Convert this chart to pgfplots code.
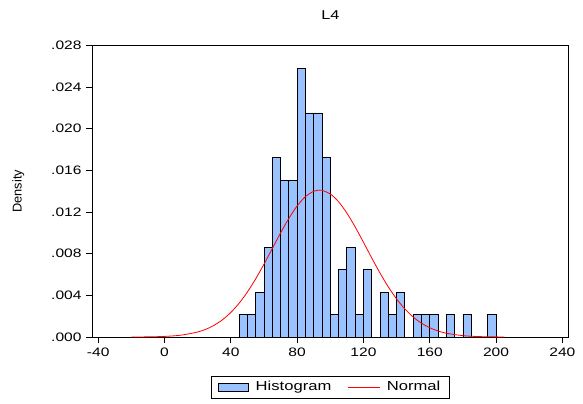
\documentclass[border=0pt]{standalone}
\usepackage{fontspec}
\setmainfont{Liberation Sans}[FakeStretch=1.27]
\newfontfamily\ylabfont{Liberation Sans}
\usepackage{pgfplots}
\pgfplotsset{compat=1.18}
\definecolor{histblue}{RGB}{153,194,255}
\begin{document}
\begin{tikzpicture}
\useasboundingbox (-69.2pt,-49.5pt) rectangle (368pt,252.75pt);
\begin{axis}[
  at={(0,0)}, anchor=south west,
  scale only axis, width=357pt, height=218.8pt,
  xmin=-43.6, xmax=243.6, ymin=0, ymax=0.028,
  scaled y ticks=false, scaled x ticks=false,
  xtick={-40,0,40,80,120,160,200,240},
  xticklabels={-40,0,40,80,120,160,200,240},
  ytick={0,0.004,0.008,0.012,0.016,0.020,0.024,0.028},
  yticklabels={.000,.004,.008,.012,.016,.020,.024,.028},
  xtick pos=left, ytick pos=left,
  tick align=outside, major tick length=4.5pt,
  tick style={black, line width=0.6pt},
  axis line style={line width=0.8pt},
  ticklabel style={font=\fontsize{9.2}{11}\selectfont},
  title={L4},
  title style={at={(axis description cs:0.5,1)}, anchor=base, yshift=13pt, font=\fontsize{9.6}{11}\selectfont},
  ylabel={Density},
  ylabel style={font=\ylabfont\fontsize{9.6}{11}\selectfont, at={(axis description cs:-0.1555,0.5)}, anchor=center},
  legend style={at={(axis description cs:0.5,0)}, anchor=center, yshift=-37.5pt,
    draw=black, line width=0.6pt, font=\fontsize{9.8}{11}\selectfont,
    inner xsep=5pt, inner ysep=2pt,
    /tikz/every odd column/.append style={column sep=3pt},
    /tikz/every even column/.append style={column sep=10pt}},
  legend columns=2,
]
\addplot[ybar interval, fill=histblue, draw=black, line width=0.6pt,
  legend image code/.code={\draw[fill=histblue,draw=black,line width=0.6pt] (0pt,-3pt) rectangle (23pt,3pt);}]
table {
x y
45 0.0021505
50 0.0021505
55 0.0043011
60 0.0086022
65 0.0172043
70 0.0150538
75 0.0150538
80 0.0258065
85 0.0215054
90 0.0215054
95 0.0172043
100 0.0021505
105 0.0064516
110 0.0086022
115 0.0021505
120 0.0064516
125 0
130 0.0043011
135 0.0021505
140 0.0043011
145 0
150 0.0021505
155 0.0021505
160 0.0021505
165 0
170 0.0021505
175 0
180 0.0021505
185 0
190 0
195 0.0021505
200 0
};
\addlegendentry{Histogram}
\addplot[red, line width=0.6pt, smooth,
  legend image code/.code={\draw[red,line width=0.6pt] (0pt,0pt) -- (24pt,0pt);}]
coordinates {
(-20,0.0000045) (-10,0.0000176) (0,0.0000601) (10,0.0001814) (20,0.0004834)
(25,0.0007532) (30,0.001137) (35,0.0016645) (40,0.0023608) (45,0.0032462)
(50,0.004326) (55,0.005588) (60,0.006996) (65,0.008490) (70,0.009986)
(75,0.011385) (80,0.012581) (85,0.013475) (90,0.013990) (93.5,0.014097)
(95,0.014077) (100,0.013730) (105,0.012980) (110,0.011893) (115,0.010563)
(120,0.009093) (125,0.007587) (130,0.006136) (135,0.004810) (140,0.003655)
(145,0.002692) (150,0.0019214) (155,0.0013295) (160,0.0008915) (165,0.0005794)
(170,0.000365) (180,0.0001319) (190,0.0000421) (205,0.000006)
};
\addlegendentry{Normal}
\end{axis}
\end{tikzpicture}
\end{document}
